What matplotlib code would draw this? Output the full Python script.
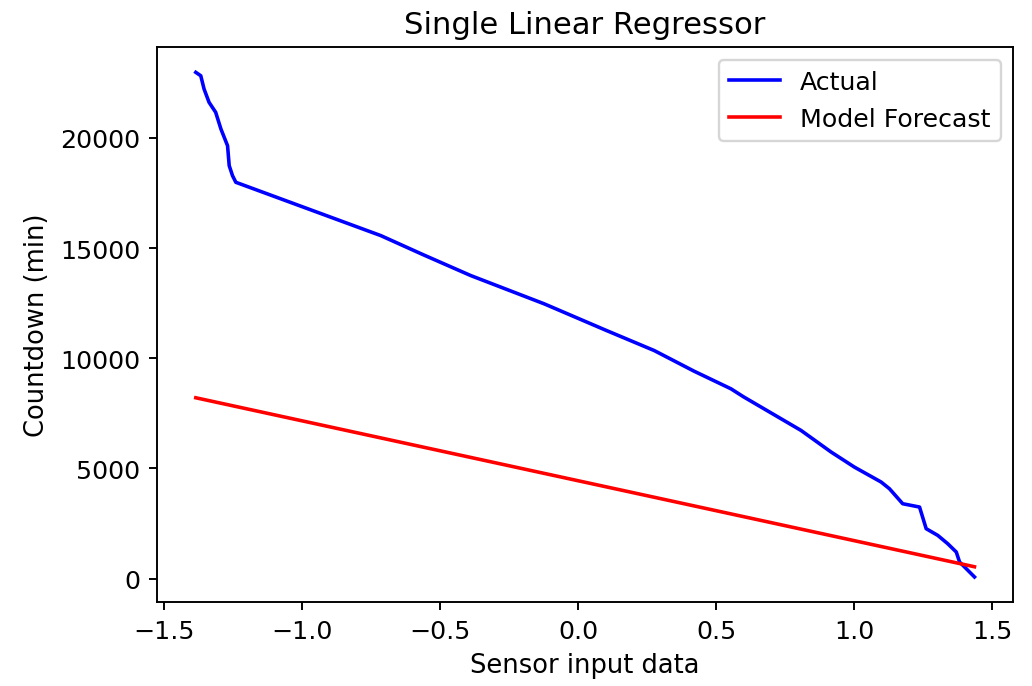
import numpy as np
from matplotlib import pyplot as plt

# sensor input (x) and countdown (y)
sensor_x = [-1.384, -1.366, -1.354, -1.336, -1.312, -1.293, -1.269, -1.263, -1.251, -1.239,
            -0.714, -0.560, -0.388, -0.122, 0.100, 0.276, 0.420, 0.554, 0.600, 0.808,
            0.917, 1.001, 1.098, 1.128, 1.176, 1.237, 1.261, 1.303, 1.339, 1.370,
            1.382, 1.406, 1.436]
actual_y = [22980, 22826, 22222, 21620, 21166, 20408, 19650, 18745, 18290, 17990,
            15570, 14700, 13755, 12472, 11280, 10354, 9420, 8617, 8250, 6726,
            5745, 5064, 4385, 4082, 3401, 3250, 2268, 1964, 1587, 1209,
            756, 454, 77]

forecast_x = [-1.384, 1.436]
forecast_y = [8210, 540]


def draw_picture():
    # default matplotlib look, just rendered at a higher dpi
    fig = plt.figure(figsize=(6.0, 3.994), dpi=172)
    ax = fig.add_axes([0.152, 0.122, 0.830, 0.808])
    ax.plot(sensor_x, actual_y, color="blue", label="Actual")
    ax.plot(forecast_x, forecast_y, color="red", label="Model Forecast")
    ax.set_title("Single Linear Regressor", fontsize=12.8)
    ax.set_xlabel("Sensor input data", fontsize=10.8)
    ax.set_ylabel("Countdown (min)", fontsize=10.8)
    ax.tick_params(labelsize=10.6)
    ax.legend(loc="upper right", fontsize=10.6)
    fig.savefig("out.png")
    return fig


if __name__ == "__main__":
    draw_picture()
